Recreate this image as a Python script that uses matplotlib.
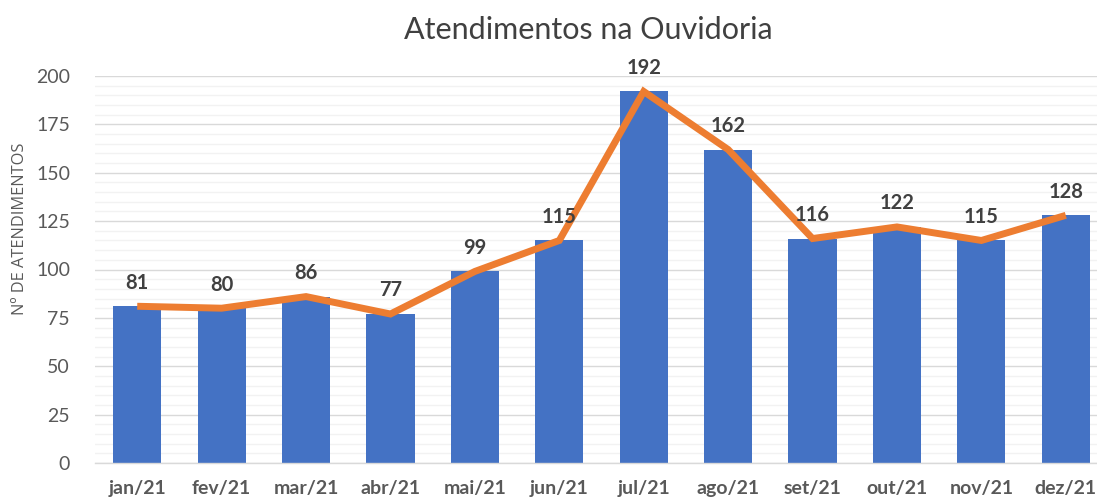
import matplotlib
matplotlib.use("Agg")
import matplotlib.pyplot as plt
from matplotlib.ticker import MultipleLocator

plt.rcParams['font.family'] = ['Lato', 'DejaVu Sans']

months = ["jan/21", "fev/21", "mar/21", "abr/21", "mai/21", "jun/21",
          "jul/21", "ago/21", "set/21", "out/21", "nov/21", "dez/21"]
values = [81, 80, 86, 77, 99, 115, 192, 162, 116, 122, 115, 128]

W, H = 1097, 504
fig = plt.figure(figsize=(W / 100, H / 100), dpi=100)
ax = fig.add_axes([95 / W, 1 - 463 / H, (1108 - 95) / W, (463 - 76) / H])

x = list(range(len(months)))
ax.bar(x, values, width=0.57, color="#4472C4", zorder=2)
ax.plot(x, values, color="#ED7D31", linewidth=5, solid_capstyle="butt",
        solid_joinstyle="miter", zorder=3)

for xi, v in zip(x, values):
    ax.annotate(str(v), (xi, v), xytext=(0, 17), textcoords="offset points",
                ha="center", va="center", fontsize=14.5, fontweight="bold",
                color="#404040", zorder=4)

ax.set_xlim(-0.5, 11.5)
ax.set_ylim(0, 200)
ax.yaxis.set_major_locator(MultipleLocator(25))
ax.yaxis.set_minor_locator(MultipleLocator(5))
ax.grid(axis="y", which="major", color="#D9D9D9", linewidth=1, zorder=0)
ax.grid(axis="y", which="minor", color="#F2F2F2", linewidth=1, zorder=0)
ax.set_axisbelow(True)

for s in ["top", "right", "left"]:
    ax.spines[s].set_visible(False)
ax.spines["bottom"].set_color("#D9D9D9")
ax.spines["bottom"].set_linewidth(1)

ax.set_xticks(x)
ax.set_xticklabels(months, fontsize=14, fontweight="bold", color="#595959")
ax.tick_params(axis="x", length=0, pad=12)
ax.tick_params(axis="y", which="both", length=0, labelsize=14,
               labelcolor="#595959", pad=18)

ax.set_ylabel("Nº DE ATENDIMENTOS", fontsize=11.8, color="#595959",
              family=["Open Sans", "DejaVu Sans"])
ax.yaxis.set_label_coords((28 - 95) / 1013, (463 - 229) / 387)
fig.text(588 / W, 1 - 30 / H, "Atendimentos na Ouvidoria", ha="center",
         va="center", fontsize=22, color="#404040")

fig.savefig("out.png", dpi=100)
